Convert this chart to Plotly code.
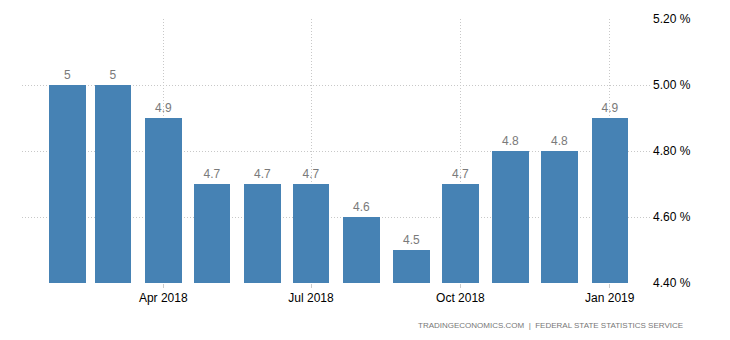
import plotly.graph_objects as go

months = ["2018-02-01", "2018-03-01", "2018-04-01", "2018-05-01", "2018-06-01", "2018-07-01",
          "2018-08-01", "2018-09-01", "2018-10-01", "2018-11-01", "2018-12-01", "2019-01-01"]
values = [5.0, 5.0, 4.9, 4.7, 4.7, 4.7, 4.6, 4.5, 4.7, 4.8, 4.8, 4.9]
tick_dates = ["2018-04-01", "2018-07-01", "2018-10-01", "2019-01-01"]
tick_labels = ["Apr 2018", "Jul 2018", "Oct 2018", "Jan 2019"]
y_ticks = [4.4, 4.6, 4.8, 5.0, 5.2]
y_tick_labels = ["4.40 %", "4.60 %", "4.80 %", "5.00 %", "5.20 %"]

FONT = "Liberation Sans"
DAY = 86400000

fig = go.Figure(go.Bar(
    x=months, y=values,
    width=[22.5 * DAY] * len(months),
    marker=dict(color="#4682B4", line=dict(width=0)),
    text=[f"{v:g}" for v in values],
    textposition="outside",
    textfont=dict(family=FONT, size=12, color="#7a7a7a"),
    cliponaxis=False,
))

fig.update_layout(
    width=730, height=340,
    margin=dict(l=22, r=78, t=19, b=57),
    paper_bgcolor="white", plot_bgcolor="white",
    showlegend=False,
    font=dict(family=FONT, size=12, color="#000000"),
    xaxis=dict(
        type="date",
        range=["2018-01-04", "2019-01-27"],
        tickvals=tick_dates, ticktext=tick_labels,
        showgrid=True, gridcolor="#c8c8c8", griddash="1px,2px", gridwidth=1,
        ticks="outside", ticklen=4, tickcolor="#cccccc",
        showline=False, zeroline=False,
        tickfont=dict(family=FONT, size=12, color="#000000"),
    ),
    yaxis=dict(
        side="right",
        range=[4.4, 5.2],
        tickvals=y_ticks, ticktext=y_tick_labels,
        showgrid=True, gridcolor="#c8c8c8", griddash="1px,2px", gridwidth=1,
        zeroline=False, showline=False, ticks="",
        tickfont=dict(family=FONT, size=12, color="#000000"),
    ),
    annotations=[dict(
        text="TRADINGECONOMICS.COM  |  FEDERAL STATE STATISTICS SERVICE",
        xref="paper", yref="paper", x=(685 - 22) / 630, y=-(325 - 283) / 264,
        xanchor="right", yanchor="middle", showarrow=False,
        font=dict(family=FONT, size=8, color="#777777"),
    )],
    bargap=0,
)

fig.write_html("out.html")
